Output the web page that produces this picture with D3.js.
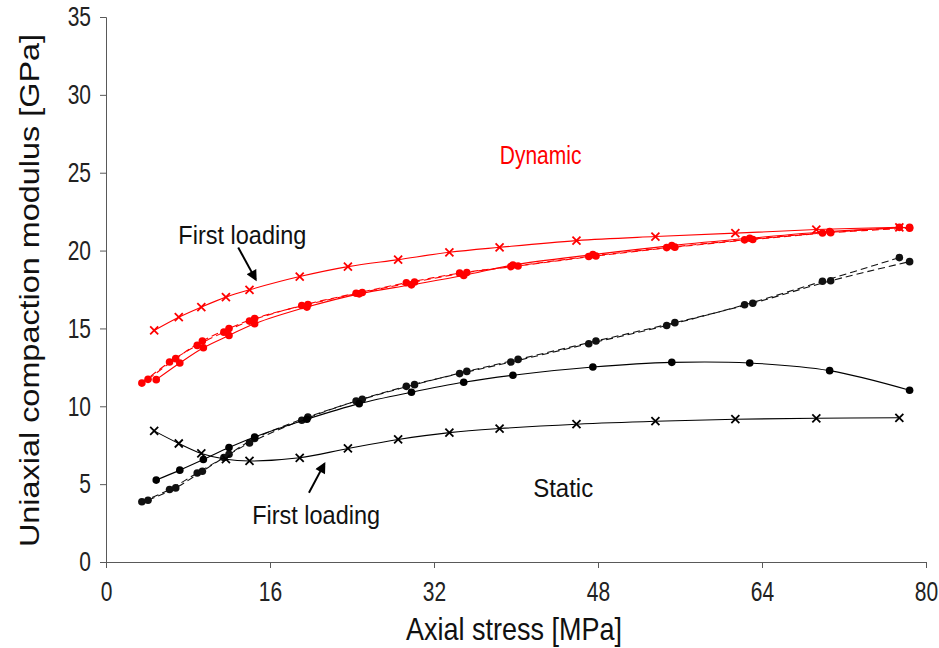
<!DOCTYPE html>
<html>
<head>
<meta charset="utf-8">
<script src="https://cdn.jsdelivr.net/npm/d3@7"></script>
<style>
  body { margin: 0; background: #fff; }
  text { font-family: "Liberation Sans", Arial, sans-serif; }
</style>
</head>
<body>
<svg id="chart" width="939" height="648"></svg>
<script>
// Axis ticks
const xTicks = [0, 16, 32, 48, 64, 80];
const yTicks = [0, 5, 10, 15, 20, 25, 30, 35];

// Axial stress levels [MPa]
const firstStress  = [4.7, 7.1, 9.3, 11.7, 14.0, 18.9, 23.6, 28.5, 33.5, 38.4, 45.9, 53.6, 61.4, 69.3, 77.4];
const unloadStress = [3.5, 6.2, 8.9, 11.5, 14.0, 19.1, 24.4, 29.3, 34.5, 39.5, 47.1, 54.7, 62.3, 69.9, 77.4];
const reloadStress = [4.1, 6.8, 9.4, 12.0, 14.5, 19.7, 25.0, 30.1, 35.2, 40.2, 47.8, 55.5, 63.1, 70.7, 78.4];
const cycleStress  = [4.9, 7.2, 9.5, 12.0, 14.5, 19.6, 24.7, 29.8, 34.9, 39.7, 47.5, 55.2, 62.8, 70.6, 78.4];

// Dynamic modulus [GPa]
const dynFirst  = [14.87, 15.72, 16.37, 17.01, 17.48, 18.33, 18.97, 19.42, 19.89, 20.21, 20.64, 20.90, 21.12, 21.35, 21.49];
const dynUnload = [11.49, 12.84, 13.91, 14.76, 15.47, 16.47, 17.26, 17.93, 18.55, 18.97, 19.62, 20.19, 20.69, 21.13, 21.49];
const dynReload = [11.73, 13.06, 14.19, 15.00, 15.64, 16.54, 17.31, 17.98, 18.59, 19.01, 19.65, 20.22, 20.71, 21.15, 21.44];
const dynCycle  = [11.71, 12.78, 13.76, 14.55, 15.30, 16.37, 17.22, 17.80, 18.40, 19.07, 19.74, 20.32, 20.79, 21.22, 21.49];

// Static modulus [GPa]
const statFirst  = [8.42, 7.61, 6.97, 6.60, 6.49, 6.69, 7.29, 7.87, 8.31, 8.57, 8.85, 9.04, 9.17, 9.23, 9.26];
const statUnload = [3.87, 4.66, 5.72, 6.71, 7.65, 9.10, 10.34, 11.28, 12.10, 12.84, 14.02, 15.19, 16.52, 18.03, 19.55];
const statReload = [3.97, 4.76, 5.83, 6.92, 7.93, 9.31, 10.45, 11.39, 12.24, 13.01, 14.19, 15.37, 16.62, 18.06, 19.29];
const statCycle  = [5.26, 5.90, 6.58, 7.35, 8.03, 9.17, 10.17, 10.90, 11.54, 11.99, 12.52, 12.82, 12.78, 12.29, 11.03];

const RED = "#ff0000", BLACK = "#000000";

// Series table built from the arrays above
const series = [
  { xs: unloadStress, ys: statUnload, color: "#111", dash: "7,4", marker: "dot" },
  { xs: reloadStress, ys: statReload, color: "#111", dash: "7,4", marker: "dot" },
  { xs: cycleStress,  ys: statCycle,  color: BLACK,  dash: null,  marker: "dot" },
  { xs: firstStress,  ys: statFirst,  color: BLACK,  dash: null,  marker: "x" },
  { xs: unloadStress, ys: dynUnload,  color: RED,    dash: "7,4", marker: "dot" },
  { xs: reloadStress, ys: dynReload,  color: RED,    dash: "7,4", marker: "dot" },
  { xs: cycleStress,  ys: dynCycle,   color: RED,    dash: null,  marker: "dot" },
  { xs: firstStress,  ys: dynFirst,   color: RED,    dash: null,  marker: "x" }
];

const svg = d3.select("#chart");
const x = d3.scaleLinear().domain([0, 80]).range([106, 926]);
const y = d3.scaleLinear().domain([0, 35]).range([562, 17]);

const axisColor = "#595959";
const STRETCH = 1.3;   // tall, narrow lettering on the axes

// Y axis
const gy = svg.append("g").attr("transform", `translate(${x(0)},0)`)
  .call(d3.axisLeft(y).tickValues(yTicks).tickSize(6).tickPadding(9).tickFormat(d3.format("d")));
gy.select(".domain").attr("stroke", axisColor);
gy.selectAll(".tick line").attr("stroke", axisColor);
gy.selectAll(".tick text")
  .attr("font-size", 21).attr("fill", "#222")
  .attr("font-family", "'Liberation Sans', Arial, sans-serif")
  .attr("transform", `scale(1,${STRETCH})`);

// X axis
const gx = svg.append("g").attr("transform", `translate(0,${y(0)})`)
  .call(d3.axisBottom(x).tickValues(xTicks).tickSize(6).tickFormat(d3.format("d")));
gx.select(".domain").attr("stroke", axisColor);
gx.selectAll(".tick line").attr("stroke", axisColor);
gx.selectAll(".tick text")
  .attr("font-size", 21).attr("fill", "#222")
  .attr("font-family", "'Liberation Sans', Arial, sans-serif")
  .attr("y", 30).attr("dy", 0)
  .attr("transform", `scale(1,${STRETCH})`);

// Axis titles
svg.append("text")
  .attr("transform", `translate(39,${(y(0) + y(35)) / 2 + 1}) scale(1,1.2) rotate(-90)`)
  .attr("text-anchor", "middle")
  .attr("font-size", 27).attr("fill", "#111")
  .text("Uniaxial compaction modulus [GPa]");
svg.append("text")
  .attr("transform", `translate(514,640) scale(1,1.13)`)
  .attr("text-anchor", "middle")
  .attr("font-size", 27).attr("fill", "#111")
  .text("Axial stress [MPa]");

// Curves and markers
const line = d3.line()
  .x(d => x(d[0])).y(d => y(d[1]))
  .curve(d3.curveCatmullRom.alpha(0.5));

const plot = svg.append("g");
series.forEach(s => {
  const pts = s.xs.map((v, i) => [v, s.ys[i]]);
  plot.append("path")
    .attr("d", line(pts))
    .attr("fill", "none")
    .attr("stroke", s.color)
    .attr("stroke-width", 1.1)
    .attr("stroke-dasharray", s.dash);
  if (s.marker === "dot") {
    plot.selectAll(null).data(pts).enter().append("circle")
      .attr("cx", d => x(d[0])).attr("cy", d => y(d[1]))
      .attr("r", 3.8).attr("fill", s.color);
  } else {
    const r = 4;
    plot.selectAll(null).data(pts).enter().append("path")
      .attr("d", d => {
        const cx = x(d[0]), cy = y(d[1]);
        return `M${cx - r},${cy - r}L${cx + r},${cy + r}M${cx - r},${cy + r}L${cx + r},${cy - r}`;
      })
      .attr("stroke", s.color).attr("stroke-width", 1.8).attr("fill", "none");
  }
});

// Annotation arrows
svg.append("defs").append("marker")
  .attr("id", "head").attr("viewBox", "0 0 10 10")
  .attr("refX", 8).attr("refY", 5)
  .attr("markerWidth", 6.5).attr("markerHeight", 5.5)
  .attr("markerUnits", "strokeWidth")
  .attr("orient", "auto")
  .append("path").attr("d", "M0,0L10,5L0,10Z").attr("fill", "#000");

const arrows = [
  { from: [12.9, 20.2], to: [14.6, 18.15] },
  { from: [19.8, 4.45], to: [21.3, 6.3] }
];
arrows.forEach(a => {
  svg.append("line")
    .attr("x1", x(a.from[0])).attr("y1", y(a.from[1]))
    .attr("x2", x(a.to[0])).attr("y2", y(a.to[1]))
    .attr("stroke", "#000").attr("stroke-width", 2)
    .attr("marker-end", "url(#head)");
});

// Annotation labels
const labels = [
  { text: "First loading", at: [13.3, 20.4],  color: "#111", size: 23.5, sy: 1.1 },
  { text: "First loading", at: [20.5, 2.45],  color: "#111", size: 23.5, sy: 1.1 },
  { text: "Dynamic",       at: [42.4, 25.55], color: RED,    size: 21,   sy: 1.2 },
  { text: "Static",        at: [44.6, 4.15],  color: "#111", size: 24,   sy: 1.1 }
];
labels.forEach(l => {
  svg.append("text")
    .attr("transform", `translate(${x(l.at[0])},${y(l.at[1])}) scale(1,${l.sy})`)
    .attr("text-anchor", "middle")
    .attr("font-size", l.size).attr("fill", l.color)
    .text(l.text);
});
</script>
</body>
</html>
